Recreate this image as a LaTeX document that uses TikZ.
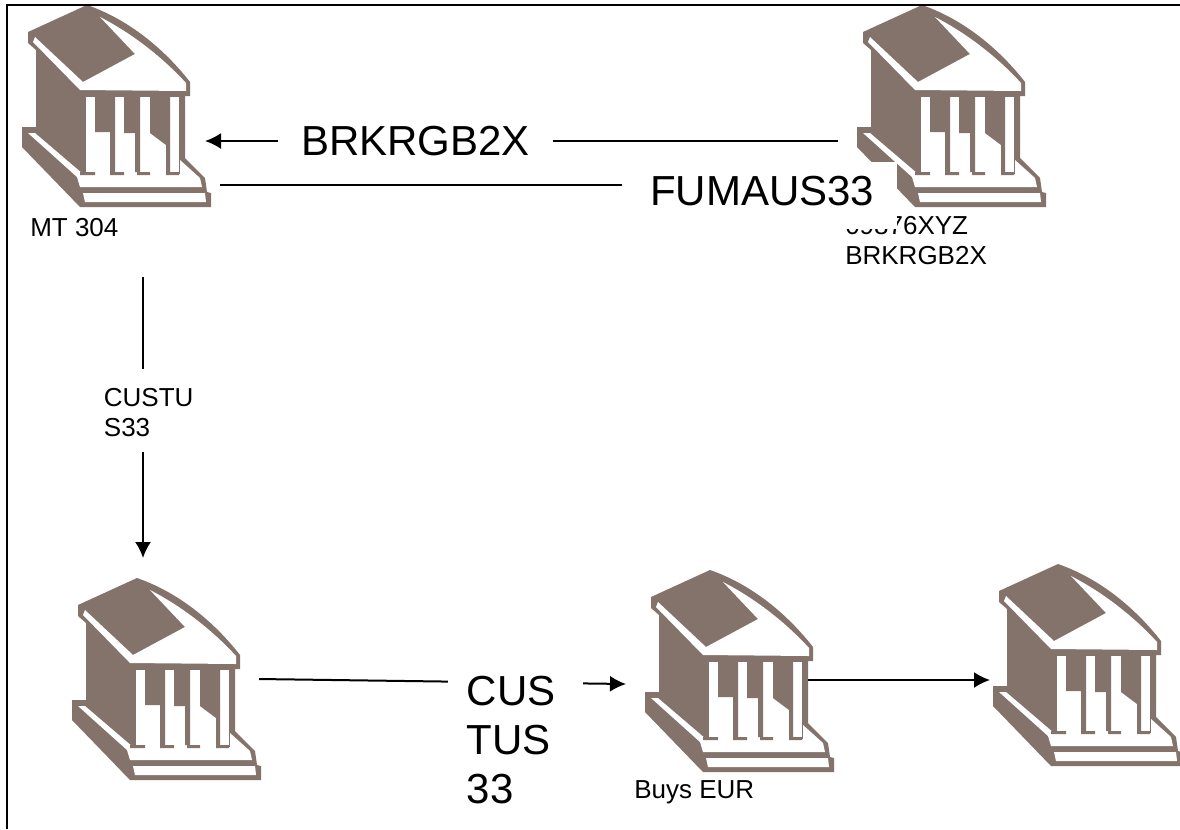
\documentclass[tikz,border=0pt]{standalone}
\usepackage{fontspec}
\setmainfont{Liberation Sans}
\usetikzlibrary{arrows.meta}
\definecolor{bankbrown}{HTML}{84736A}
\tikzset{
  x=0.75pt,y=-0.75pt,
  bigtext/.style={font=\fontsize{31.5pt}{36.75pt}\selectfont,fill=white,inner sep=0pt,align=left},
  smalltext/.style={font=\fontsize{19.5pt}{22.5pt}\selectfont,inner sep=0pt,align=left,anchor=north west},
  conn/.style={line width=1.5pt,black},
  arr/.style={conn,-{Latex[length=12pt,width=12pt]}},
  pics/bank/.style={code={
    \fill[bankbrown] (87,5) .. controls (130,20) and (165,50) .. (190,82) -- (190,96) -- (185,96) -- (185,158)
      -- (205,178) -- (207,192) -- (211,193) -- (211,207) -- (80,207) -- (22,147) -- (22,127) -- (36,127)
      -- (36,50) -- (28,43) -- (28,32) -- cycle;
    \fill[white] (100,17) .. controls (135,35) and (165,60) .. (186,83) -- (186,91) -- (80,90) -- (33,42) -- (35,37) -- (83,82) -- (135,54) -- cycle;
    \fill[white] (86,97) rectangle (179,176);
    \fill[bankbrown] (95,97) -- (115,97) -- (115,172) -- (110,172) -- (110,132) -- (95,132) -- cycle;
    \fill[bankbrown] (124,97) -- (140,97) -- (140,172) -- (135,172) -- (135,133) -- (124,133) -- cycle;
    \fill[bankbrown] (150,97) -- (170,97) -- (170,172) -- (166,172) -- (166,145) -- (150,133) -- cycle;
    \fill[white] (28,133) -- (35,133) -- (83,174) -- (180,174) -- (180,160) -- (200,178) -- (202,187) -- (80,187) -- (77,177) -- cycle;
    \fill[bankbrown] (80,172) rectangle (95,175) (110,172) rectangle (124,175) (137,172) rectangle (150,175) (166,172) rectangle (179,175);
    \fill[white] (83,193) -- (205,193) -- (206,202) -- (85,202) -- cycle;
  }}
}
\begin{document}
\begin{tikzpicture}
\useasboundingbox (0,0) rectangle (1180,829);
\fill[white] (0,0) rectangle (1180,829);
\pic at (0,0) {bank};
\pic at (835,0) {bank};
\pic at (50,573) {bank};
\pic at (623,565) {bank};
\pic at (971,559) {bank};
\draw[line width=1.5pt] (7,829) -- (7,5) -- (1180,5);

\coordinate (bankAeast) at (205,141);
\coordinate (bankBwest) at (838,141);
\coordinate (bankAlow) at (220,185);
\coordinate (bankAsouth) at (143,277);
\coordinate (bankCnorth) at (143,558);
\coordinate (bankCeast) at (259,679);
\coordinate (bankDwest) at (626,684);
\coordinate (bankDeast) at (808,680);
\coordinate (bankEwest) at (990,680);

\draw[arr] (bankBwest) -- (bankAeast);
\draw[arr] (bankAsouth) -- (bankCnorth);
\draw[arr] (bankCeast) -- (bankDwest);
\draw[arr] (bankDeast) -- (bankEwest);

\node[smalltext] (mtlabel) at (30,218) {MT 304};
\node[smalltext] (reflabel) at (845,216) {09876XYZ\\BRKRGB2X};
\node[smalltext] (buyslabel) at (634,780) {Buys EUR};
\node[smalltext,fill=white,minimum width=72pt,minimum height=62pt,text width=72pt] (custlabel) at (95,369) {\\[-6pt]\hspace*{6.5pt}CUSTU\\\hspace*{6.5pt}S33};

\node[bigtext,minimum width=206pt,minimum height=34pt] (brklabel) at (415.5,141) {BRKRGB2X};
\node[bigtext,text width=206pt,minimum height=50pt,anchor=north west] (fumlabel) at (622,162) {\hspace*{21pt}\raisebox{7.5pt}{FUMAUS33}};
\draw[conn] (bankAlow) -- (fumlabel.west |- bankAlow);
\node[bigtext,anchor=north west,text width=101pt] (cuslabel) at (448,676) {\hspace*{14pt}CUS\\\hspace*{14pt}TUS\\\hspace*{14pt}33};
\end{tikzpicture}
\end{document}
